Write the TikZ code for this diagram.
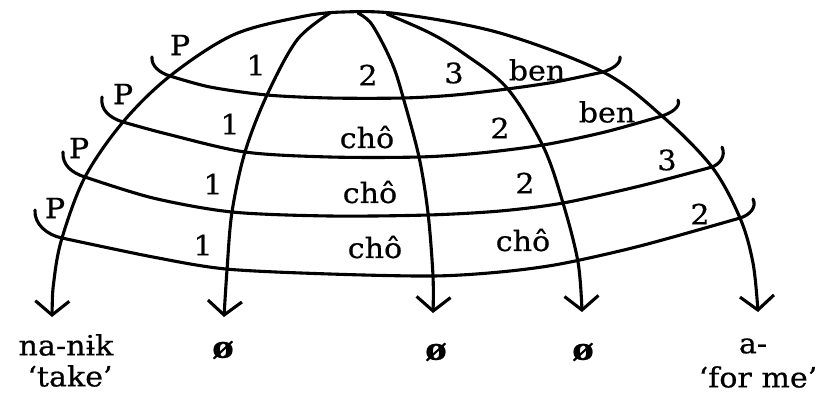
\documentclass[tikz,border=0pt]{standalone}
\usepackage{fontspec}
\setmainfont{DejaVu Serif}[FakeBold=0.6, FakeStretch=1.08]
\usetikzlibrary{arrows.meta}
\begin{document}
\begin{tikzpicture}[x=1bp,y=-1bp,
  curve/.style={line width=3.1bp, line cap=round, line join=round},
  barb/.tip={Straight Barb[length=14bp,width=34bp,line width=3.1bp]},
  tipped/.style={curve, -barb},
  bothtipped/.style={curve, barb-barb},
  lab/.style={font=\fontsize{28}{30}\selectfont, inner sep=0pt},
  nul/.style={font=\fontsize{30}{32}\selectfont\bfseries, inner sep=0pt}
]
\useasboundingbox (0,0) rectangle (818,397);
% outer dome (meridians 1 and 5)
\draw[bothtipped] plot[smooth, tension=0.55] coordinates {(52,317) (54,280) (62,238) (85,177) (123,122) (170,76) (233,35) (300,17) (343,12) (400,14) (500,33) (603,72) (662,116) (712,167) (740,218) (753,263) (758,312)};
% inner meridians
\draw[tipped] plot[smooth, tension=0.55] coordinates {(330,13) (297,40) (267,95) (245,152) (232,212) (227,270) (224,317)};
\draw[tipped] plot[smooth, tension=0.55] coordinates {(358,13) (370,22) (382,42) (394,68) (403,97) (419,157) (428,213) (433,276) (433,313)};
\draw[tipped] plot[smooth, tension=0.55] coordinates {(387,14) (430,33) (463,53) (507,88) (543,146) (563,203) (578,262) (582,312)};
% latitude rows
\draw[curve] plot[smooth, tension=0.5] coordinates {(170,76) (210,87) (267,95) (330,98) (403,98) (455,95) (507,89) (555,82) (603,72)};
\draw[curve] plot[smooth, tension=0.5] coordinates {(123,122) (167,134) (245,152) (330,157) (419,157) (480,153) (543,145) (605,132) (662,116)};
\draw[curve] plot[smooth, tension=0.5] coordinates {(85,177) (153,198) (232,212) (330,216) (428,215) (500,211) (563,203) (640,186) (712,167)};
\draw[curve] plot[smooth, tension=0.5] coordinates {(62,238) (153,257) (226,269) (330,274) (433,276) (500,272) (560,264) (640,246) (740,218)};
% hooks at the ends of the rows
\draw[curve] (170,76) .. controls (160,73) and (151,66) .. (152,57);
\draw[curve] (123,122) .. controls (110,118) and (100,110) .. (102,97);
\draw[curve] (85,177) .. controls (72,173) and (62,165) .. (63,152);
\draw[curve] (62,238) .. controls (47,235) and (34,224) .. (35,210);
\draw[curve] (603,72) .. controls (612,69) and (621,64) .. (620,57);
\draw[curve] (662,116) .. controls (671,113) and (681,107) .. (678,100);
\draw[curve] (712,167) .. controls (720,164) and (726,156) .. (722,147);
\draw[curve] (740,218) .. controls (750,215) and (757,207) .. (753,199);
% row 1 labels
\node[lab] (p1) at (180,45) {P};
\node[lab] (a1) at (256,65) {1};
\node[lab] (b1) at (368,75) {2};
\node[lab] (c1) at (454,73) {3};
\node[lab] (d1) at (537,70) {ben};
% row 2 labels
\node[lab] (p2) at (123,94) {P};
\node[lab] (a2) at (230,124) {1};
\node[lab] (b2) at (367,137) {chô};
\node[lab] (c2) at (500,128) {2};
\node[lab] (d2) at (607,112) {ben};
% row 3 labels
\node[lab] (p3) at (79,148) {P};
\node[lab] (a3) at (213,184) {1};
\node[lab] (b3) at (370,192) {chô};
\node[lab] (c3) at (525,183) {2};
\node[lab] (d3) at (667,160) {3};
% row 4 labels
\node[lab] (p4) at (55,208) {P};
\node[lab] (a4) at (203,245) {1};
\node[lab] (b4) at (375,247) {chô};
\node[lab] (c4) at (523,240) {chô};
\node[lab] (d4) at (700,214) {2};
% bottom labels
\node[lab] (m1) at (66,345) {na-nɨk};
\node[lab] (g1) at (70,376) {‘take’};
\node[nul] (m2) at (223,350) {ø};
\node[nul] (m3) at (436,352) {ø};
\node[nul] (m4) at (583,352) {ø};
\node[lab] (m5) at (753,346) {a-};
\node[lab] (g5) at (758,377) {‘for me’};
\end{tikzpicture}
\end{document}
